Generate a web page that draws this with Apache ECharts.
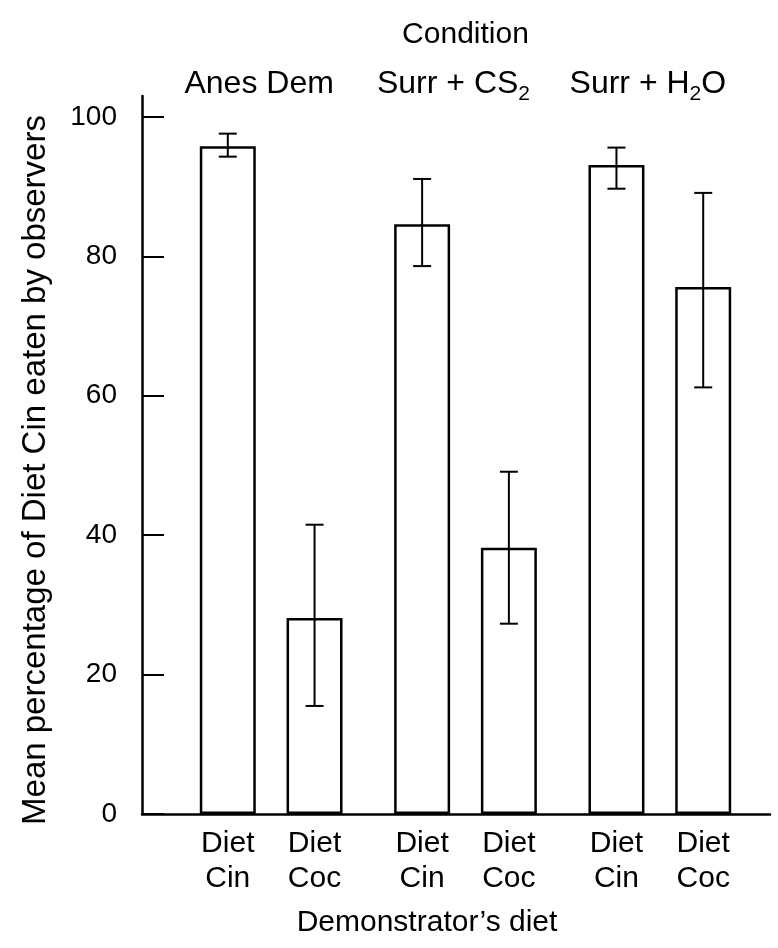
<!DOCTYPE html>
<html>
<head>
<meta charset="utf-8">
<script src="https://cdn.jsdelivr.net/npm/echarts@6/dist/echarts.min.js"></script>
<style>
  html, body { margin: 0; padding: 0; background: #fff; }
  #chart { width: 778px; height: 948px; }
</style>
</head>
<body>
<div id="chart"></div>
<script>
// data
var conditions = ['Anes Dem', 'Surr + CS2', 'Surr + H2O'];
var dietLabels = ['Diet\nCin', 'Diet\nCoc'];
var yTicks = [0, 20, 40, 60, 80, 100];

var cinMean = [95.8, 84.6, 93.1];
var cinLow  = [94.3, 78.6, 89.7];
var cinHigh = [97.6, 91.1, 95.6];

var cocMean = [28.1, 38.2, 75.6];
var cocLow  = [15.5, 27.3, 61.2];
var cocHigh = [41.5, 49.1, 89.1];

var FONT = '"Liberation Sans", Arial, Helvetica, sans-serif';
var BAR_FRAC = 0.288;   // bar width as share of the category band
var BAR_GAP = 0.55;     // gap between the two bars, share of bar width

var myChart = echarts.init(document.getElementById('chart'), null, { renderer: 'canvas' });

// error bar drawn over the bar, shifted left (-1) or right (+1) from the band centre
function errorBar(side) {
    return function (params, api) {
        var cat = api.value(0);
        var lo = api.coord([cat, api.value(1)]);
        var hi = api.coord([cat, api.value(2)]);
        var band = api.size([1, 0])[0];
        var barW = band * BAR_FRAC;
        var x = lo[0] + side * barW * (1 + BAR_GAP) / 2;
        var cap = 9;
        var st = { stroke: '#000', lineWidth: 2 };
        return {
            type: 'group',
            children: [
                { type: 'line', shape: { x1: x, y1: hi[1], x2: x, y2: lo[1] }, style: st },
                { type: 'line', shape: { x1: x - cap, y1: hi[1], x2: x + cap, y2: hi[1] }, style: st },
                { type: 'line', shape: { x1: x - cap, y1: lo[1], x2: x + cap, y2: lo[1] }, style: st }
            ]
        };
    };
}

function errData(low, high) {
    return conditions.map(function (c, i) { return [i, low[i], high[i]]; });
}

var barStyle = { color: '#fff', borderColor: '#000', borderWidth: 2.5 };

function bottomLabel(text) {
    return {
        show: true,
        position: 'bottom',
        distance: 12,
        formatter: text,
        color: '#000',
        fontFamily: FONT,
        fontSize: 30,
        lineHeight: 35
    };
}

var option = {
    animation: false,
    backgroundColor: '#fff',
    textStyle: { fontFamily: FONT, color: '#000' },
    grid: [
        { left: 142, right: 8, top: 96, bottom: 134, containLabel: false, outerBoundsMode: 'none' },
        { left: 174, right: 21, top: 96, bottom: 134, containLabel: false, outerBoundsMode: 'none' }
    ],
    xAxis: [
        {
            gridIndex: 0,
            type: 'value',
            min: 0,
            max: 1,
            axisLine: { show: true, lineStyle: { color: '#000', width: 2.5 } },
            axisTick: { show: false },
            axisLabel: { show: false },
            splitLine: { show: false },
            name: "Demonstrator\u2019s diet",
            nameLocation: 'middle',
            nameGap: 94,
            nameTextStyle: { fontFamily: FONT, fontSize: 30, color: '#000', padding: [0, 58, 0, 0] }
        },
        {
            gridIndex: 1,
            type: 'category',
            position: 'top',
            data: conditions,
            axisLine: { show: false },
            axisTick: { show: false },
            splitLine: { show: false },
            axisLabel: {
                interval: 0,
                hideOverlap: false,
                margin: -9,
                color: '#000',
                fontFamily: FONT,
                fontSize: 32,
                lineHeight: 42,
                padding: [0, 24, 0, 0],
                formatter: function (v) {
                    return v.replace(/([A-Z])(\d)/g, '$1{s|$2}');
                },
                rich: {
                    s: { fontFamily: FONT, fontSize: 21, lineHeight: 20, color: '#000', verticalAlign: 'bottom', padding: [22, 0, 0, 0] }
                }
            },
            name: 'Condition',
            nameLocation: 'middle',
            nameGap: 46,
            nameTextStyle: { fontFamily: FONT, fontSize: 30, color: '#000' }
        }
    ],
    yAxis: [
        {
            gridIndex: 0,
            type: 'value',
            min: 0,
            max: 103,
            interval: 20,
            axisLine: { show: true, lineStyle: { color: '#000', width: 2.5 } },
            axisTick: { show: true, inside: true, length: 22, customValues: yTicks, lineStyle: { color: '#000', width: 2 } },
            axisLabel: { customValues: yTicks, margin: 25, color: '#000', fontFamily: FONT, fontSize: 28 },
            splitLine: { show: false },
            name: 'Mean percentage of Diet Cin eaten by observers',
            nameLocation: 'middle',
            nameGap: 90,
            nameTextStyle: { fontFamily: FONT, fontSize: 33, color: '#000', padding: [0, 30, 0, 0] }
        },
        {
            gridIndex: 1,
            type: 'value',
            min: 0,
            max: 103,
            show: false
        }
    ],
    series: [
        {
            name: 'Diet Cin',
            type: 'bar',
            xAxisIndex: 1,
            yAxisIndex: 1,
            data: cinMean,
            barWidth: (BAR_FRAC * 100) + '%',
            barGap: (BAR_GAP * 100) + '%',
            itemStyle: barStyle,
            label: bottomLabel(dietLabels[0])
        },
        {
            name: 'Diet Coc',
            type: 'bar',
            xAxisIndex: 1,
            yAxisIndex: 1,
            data: cocMean,
            barWidth: (BAR_FRAC * 100) + '%',
            barGap: (BAR_GAP * 100) + '%',
            itemStyle: barStyle,
            label: bottomLabel(dietLabels[1])
        },
        {
            type: 'custom',
            xAxisIndex: 1,
            yAxisIndex: 1,
            z: 5,
            renderItem: errorBar(-1),
            encode: { x: 0, y: [1, 2] },
            data: errData(cinLow, cinHigh)
        },
        {
            type: 'custom',
            xAxisIndex: 1,
            yAxisIndex: 1,
            z: 5,
            renderItem: errorBar(1),
            encode: { x: 0, y: [1, 2] },
            data: errData(cocLow, cocHigh)
        }
    ]
};

myChart.setOption(option);
</script>
</body>
</html>
